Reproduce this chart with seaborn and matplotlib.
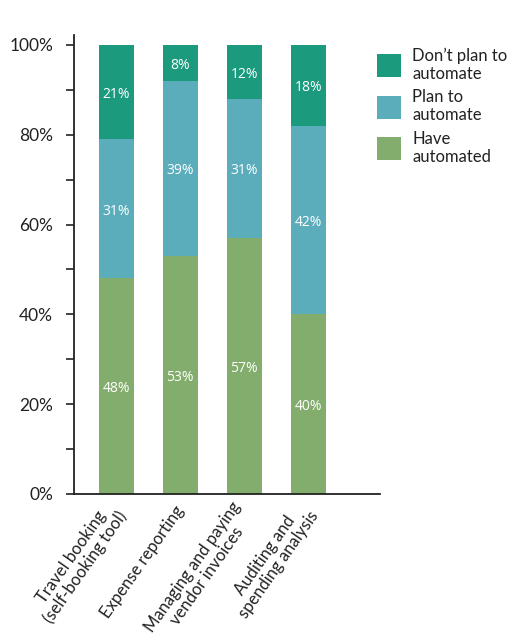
import matplotlib
matplotlib.use("Agg")
import matplotlib.pyplot as plt
import seaborn as sns
import numpy as np
import pandas as pd
from matplotlib.patches import Patch
from matplotlib.ticker import MultipleLocator, FuncFormatter

categories = ["Travel booking\n(self-booking tool)", "Expense reporting",
              "Managing and paying\nvendor invoices", "Auditing and\nspending analysis"]
have_automated = [48, 53, 57, 40]
plan_to_automate = [31, 39, 31, 42]
dont_plan = [21, 8, 12, 18]
series_names = ["Don\u2019t plan to\nautomate", "Plan to\nautomate", "Have\nautomated"]
colors = ["#1b9a7e", "#5badbc", "#83ad6d"]

sns.set_theme(style="white")
plt.rcParams['font.family'] = ['Lato', 'DejaVu Sans']

df = pd.DataFrame({"cat": categories, "have": have_automated,
                   "plan": plan_to_automate, "dont": dont_plan})
df["c1"] = df["have"]
df["c2"] = df["have"] + df["plan"]
df["c3"] = df["have"] + df["plan"] + df["dont"]

fig = plt.figure(figsize=(5.16, 6.34), dpi=100)
ax = fig.add_axes([74/516, 1-494/634, (380-74)/516, (494-35)/634])

for col, colr in zip(["c3", "c2", "c1"], colors):
    sns.barplot(data=df, x="cat", y=col, color=colr, width=0.55, ax=ax,
                saturation=1, errorbar=None, linewidth=0, edgecolor="none")

# labels centred in segments
for i in range(len(categories)):
    segs = [(0, have_automated[i]), (have_automated[i], plan_to_automate[i]),
            (have_automated[i] + plan_to_automate[i], dont_plan[i])]
    for b, h in segs:
        ax.text(i, b + h/2 - 0.5, f"{h}%", ha="center", va="center", color="white",
                fontsize=10, family=["Open Sans", "DejaVu Sans"])

ax.set_xlim(-0.66, 4.12)
ax.set_ylim(0, 102.2)
ax.yaxis.set_major_locator(MultipleLocator(20))
ax.yaxis.set_minor_locator(MultipleLocator(10))
ax.yaxis.set_major_formatter(FuncFormatter(lambda v, p: f"{int(v)}%" if v <= 100 else ""))
ax.tick_params(axis="y", which="both", left=True, length=6, width=1.2, color="#222222",
               labelsize=12.5, pad=9, labelcolor="#222222")
ax.set_xlabel("")
ax.set_ylabel("")
for s in ["top", "right"]:
    ax.spines[s].set_visible(False)
for s in ["left", "bottom"]:
    ax.spines[s].set_color("#222222")
    ax.spines[s].set_linewidth(1.3)

ax.set_xticks(range(len(categories)))
ax.set_xticklabels(categories, rotation=55, ha="right", va="center",
                   rotation_mode="anchor", multialignment="center",
                   fontsize=12, color="#222222", linespacing=1.0)
ax.tick_params(axis="x", bottom=False, pad=4)

handles = [Patch(facecolor=c, edgecolor="none") for c in colors]
leg = fig.legend(handles, series_names, loc="upper left", bbox_to_anchor=(374/516, 1-44/634),
                 frameon=False, fontsize=12, handlelength=1.4, handleheight=1.75,
                 labelspacing=0.45, handletextpad=0.7, borderaxespad=0, borderpad=0.2)
for t in leg.get_texts():
    t.set_color("#222222")
    t.set_linespacing(1.15)

fig.savefig("out.png", dpi=100)
